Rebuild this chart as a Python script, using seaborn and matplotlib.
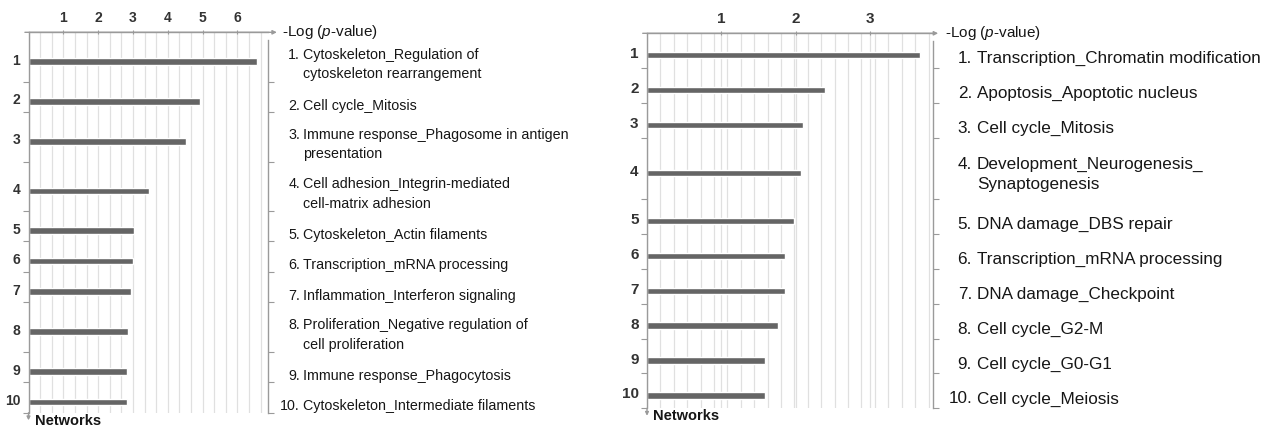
import numpy as np
import pandas as pd
import seaborn as sns
import matplotlib
matplotlib.use("Agg")
import matplotlib.pyplot as plt
from matplotlib.ticker import FixedLocator, MultipleLocator
from matplotlib.transforms import blended_transform_factory

# ---- data ----
left_values = [6.56, 4.93, 4.53, 3.46, 3.04, 2.99, 2.94, 2.85, 2.82, 2.82]
left_labels = [
    "Cytoskeleton_Regulation of\ncytoskeleton rearrangement",
    "Cell cycle_Mitosis",
    "Immune response_Phagosome in antigen\npresentation",
    "Cell adhesion_Integrin-mediated\ncell-matrix adhesion",
    "Cytoskeleton_Actin filaments",
    "Transcription_mRNA processing",
    "Inflammation_Interferon signaling",
    "Proliferation_Negative regulation of\ncell proliferation",
    "Immune response_Phagocytosis",
    "Cytoskeleton_Intermediate filaments",
]
left_ticks = [1, 2, 3, 4, 5, 6]

right_values = [3.66, 2.39, 2.09, 2.07, 1.97, 1.85, 1.85, 1.76, 1.59, 1.58]
right_labels = [
    "Transcription_Chromatin modification",
    "Apoptosis_Apoptotic nucleus",
    "Cell cycle_Mitosis",
    "Development_Neurogenesis_\nSynaptogenesis",
    "DNA damage_DBS repair",
    "Transcription_mRNA processing",
    "DNA damage_Checkpoint",
    "Cell cycle_G2-M",
    "Cell cycle_G0-G1",
    "Cell cycle_Meiosis",
]
right_ticks = [1, 2, 3]

sns.set_style("white")
plt.rcParams["font.family"] = ["Liberation Sans", "DejaVu Sans"]
plt.rcParams["mathtext.fontset"] = "custom"
plt.rcParams["mathtext.rm"] = "Liberation Sans"
plt.rcParams["mathtext.it"] = "Liberation Sans:italic"

W, H = 1275, 428
fig = plt.figure(figsize=(W / 100, H / 100), dpi=100)

AXIS_C = "#9a9a9a"
GRID_C = "#e0e0e0"
BAR_C = "#656565"
TEXT_C = "#161616"


def panel(rect_px, values, labels, ticks, xmax, grid_step, line_h, pad,
          num_x, txt_x, label_fs, line_sp, tick_fs, arrow_end, log_dx):
    x0, x1, ytop, ybot = rect_px
    ax = fig.add_axes([x0 / W, (H - ybot) / H, (x1 - x0) / W, (ybot - ytop) / H])

    # row heights depend on number of text lines in the label
    nlines = np.array([lab.count("\n") + 1 for lab in labels])
    heights = nlines * line_h + pad
    edges = np.concatenate([[0], np.cumsum(heights)])
    centers = (edges[:-1] + edges[1:]) / 2 + 4.5

    df = pd.DataFrame({"value": values, "pos": centers})
    sns.barplot(data=df, x="value", y="pos", orient="h", native_scale=True,
                color=BAR_C, width=6.5 / np.min(np.diff(centers)),
                errorbar=None, saturation=1, ax=ax)

    ax.set_xlim(0, xmax)
    ax.set_ylim(edges[-1], 0)
    ax.set_xlabel("")
    ax.set_ylabel("")

    # x axis on top
    ax.xaxis.tick_top()
    ax.set_xticks(ticks)
    ax.set_xticklabels([str(t) for t in ticks])
    ax.xaxis.set_minor_locator(MultipleLocator(grid_step))
    ax.grid(axis="x", which="both", color=GRID_C, lw=0.9)
    ax.grid(axis="y", visible=False)
    ax.tick_params(axis="x", which="major", length=3, direction="inout",
                   color=AXIS_C, pad=4, labelsize=tick_fs, labelcolor="#333333")
    ax.tick_params(axis="x", which="minor", length=0)

    # y ticks: labels at bars, small marks at row boundaries
    ax.yaxis.set_major_locator(FixedLocator(centers - 2.5))
    ax.set_yticklabels([str(i + 1) for i in range(len(values))])
    ax.yaxis.set_minor_locator(FixedLocator(edges[1:]))
    ax.tick_params(axis="y", which="major", length=0, pad=6,
                   labelsize=tick_fs, labelcolor="#333333")
    ax.tick_params(axis="y", which="minor", left=True, right=True,
                   length=4, width=0.8, color=AXIS_C)
    for lab in ax.get_xticklabels() + ax.get_yticklabels():
        lab.set_fontweight("bold")

    ax.spines["bottom"].set_visible(False)
    for side in ["left", "top", "right"]:
        ax.spines[side].set_color(AXIS_C)
        ax.spines[side].set_linewidth(1.0)
    ax.spines["right"].set_bounds(edges[-1], 8)

    # arrows on the axes
    ax.annotate("", xy=(arrow_end, 1), xytext=(-0.015, 1), xycoords="axes fraction",
                arrowprops=dict(arrowstyle="-|>", color=AXIS_C, lw=1.0,
                                mutation_scale=6, shrinkA=0, shrinkB=0))
    ax.annotate("", xy=(0, -0.02), xytext=(0, 0), xycoords="axes fraction",
                arrowprops=dict(arrowstyle="-|>", color=AXIS_C, lw=1.0,
                                mutation_scale=5, shrinkA=0, shrinkB=0))

    # category names to the right; number sits on the first line
    tr = blended_transform_factory(fig.transFigure, ax.transData)
    fs_px = label_fs * 100 / 72
    line_px = fs_px * line_sp
    for i, lab in enumerate(labels):
        y = centers[i] + 2.5
        y_top = y - ((nlines[i] - 1) * line_px + 0.75 * fs_px) / 2
        ax.text(num_x / W, y_top, f"{i + 1}.", transform=tr, ha="right", va="top",
                fontsize=label_fs, color=TEXT_C, clip_on=False)
        ax.text(txt_x / W, y_top, lab, transform=tr, ha="left", va="top",
                fontsize=label_fs, color=TEXT_C, linespacing=line_sp, clip_on=False)

    fig.text((x1 + log_dx) / W, (H - ytop) / H, r"-Log ($p$-value)", ha="left",
             va="center", fontsize=11, color=TEXT_C)
    fig.text((x0 + 6.5) / W, (H - ybot - 8) / H, "Networks", ha="left",
             va="center", fontsize=10.5, fontweight="bold", color=TEXT_C)
    return ax


panel((28.5, 268, 32.3, 412.7), left_values, left_labels, left_ticks,
      xmax=6.88, grid_step=1 / 3, line_h=19, pad=11.5,
      num_x=300, txt_x=303, label_fs=10.3, line_sp=1.5, tick_fs=10,
      arrow_end=1.037, log_dx=14)
panel((647, 933, 33.3, 408.3), right_values, right_labels, right_ticks,
      xmax=3.84, grid_step=0.18, line_h=26.6, pad=8.4,
      num_x=972, txt_x=977, label_fs=12.3, line_sp=1.45, tick_fs=11,
      arrow_end=1.018, log_dx=12)

fig.savefig("out.png", dpi=100, facecolor="white")
